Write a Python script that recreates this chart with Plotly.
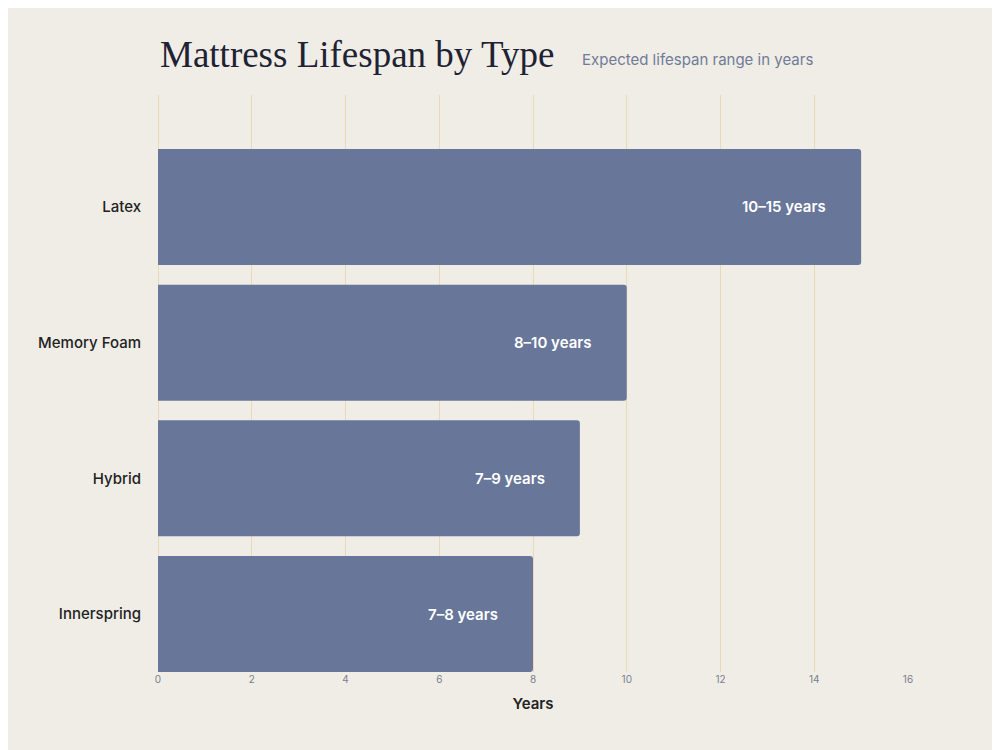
import plotly.graph_objects as go

categories = ["Innerspring", "Hybrid", "Memory Foam", "Latex"]
years = [8, 9, 10, 15]
labels = ["7–8 years", "7–9 years", "8–10 years", "10–15 years"]
x_ticks = [0, 2, 4, 6, 8, 10, 12, 14, 16]

fig = go.Figure(go.Bar(
    y=categories, x=years, orientation="h",
    marker=dict(color="#68769a", cornerradius=3, line=dict(width=0)),
    width=0.855, hoverinfo="skip",
))

annos = [
    dict(x=v, y=c, text=t, xref="x", yref="y", xanchor="right", xshift=-33, showarrow=False,
         font=dict(family="Inter", size=15, color="white", weight=600))
    for c, v, t in zip(categories, years, labels)
]
annos += [
    dict(text="Mattress Lifespan by Type", xref="paper", yref="paper", x=0, y=1,
         xanchor="left", yanchor="bottom", yshift=18, showarrow=False,
         font=dict(family="Liberation Serif", size=37, color="#1e2233")),
    dict(text="Expected lifespan range in years", xref="paper", yref="paper", x=0.563, y=1,
         xanchor="left", yanchor="bottom", yshift=24, showarrow=False,
         font=dict(family="Inter", size=15, color="#6f7b98")),
]

fig.update_layout(
    width=1000, height=750,
    paper_bgcolor="#efede6", plot_bgcolor="#efede6",
    margin=dict(l=150, r=100, t=87, b=86),
    showlegend=False,
    xaxis=dict(range=[0, 16], tickvals=x_ticks, showgrid=True, gridcolor="#ead8b8",
               gridwidth=1, zeroline=True, zerolinecolor="#ead8b8", zerolinewidth=1,
               showline=False, ticks="",
               tickfont=dict(family="Inter", size=10, color="#7a7f8c"),
               title=dict(text="Years", font=dict(family="Inter", size=15, color="#222", weight=600),
                          standoff=14)),
    yaxis=dict(categoryorder="array", categoryarray=categories, range=[-0.427, 3.825],
               showgrid=False, zeroline=False, ticks="", ticklabelstandoff=16,
               tickfont=dict(family="Inter", size=15, color="#222", weight=500)),
    annotations=annos,
)
fig.write_html("out.html")
